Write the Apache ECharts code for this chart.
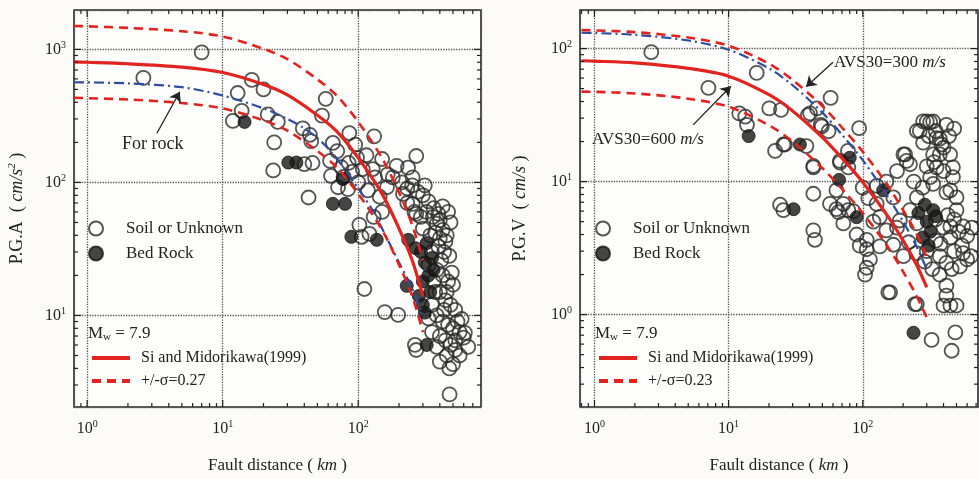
<!DOCTYPE html>
<html style="height: 100%">
  <head>
    <meta charset="utf-8" />
  </head>
  <body style="height: 100%; margin: 0; background: #fcfbf8">
    <div id="container" style="width: 979px; height: 479px"></div>

    <script
      type="text/javascript"
      src="https://cdn.jsdelivr.net/npm/echarts@6/dist/echarts.min.js"
    ></script>

    <script type="text/javascript">
      // ---- data ----
      // fault distance (km) where the model curves were read
      var curveDist = [0.8, 1, 2, 5, 10, 20, 30, 50, 70, 100, 150, 200, 250, 300];

      // P.G.A (cm/s2)
      var pgaMedian = [805, 800, 780, 735, 670, 545, 455, 320, 240, 153, 82, 45, 26, 14];
      var pgaUpper = [1500, 1490, 1450, 1370, 1250, 1010, 845, 595, 445, 285, 152, 84, 48, 26];
      var pgaLower = [433, 430, 420, 395, 360, 293, 245, 172, 129, 82, 44, 24, 14, 7.5];
      var rockDist = [0.8, 1, 2, 5, 10, 20, 30, 40, 50, 60, 80, 100, 130, 150, 200, 250, 300];
      var pgaRockCurve = [566, 565, 555, 520, 450, 360, 300, 255, 215, 180, 125, 90, 60, 45, 25, 16, 10];

      var pgaSoil = [
        [2.6, 610], [7, 950], [12.9, 470], [13.8, 345], [11.9, 290], [16.4, 590], [20, 500], [21.5, 325],
        [25.5, 285], [24, 200], [23.6, 123], [43, 77], [57.6, 425], [54, 318], [39, 255], [44, 228],
        [46, 140], [40, 137], [45, 204], [65, 198], [70, 172], [62, 145], [63, 112], [86, 235],
        [131, 222], [268, 158], [95, 192], [98, 153], [71, 92], [84, 89], [108, 126], [128, 126],
        [133, 109], [118, 87], [192, 133], [233, 129], [252, 109], [310, 95], [180, 109], [163, 92],
        [214, 82], [144, 78], [252, 69], [268, 58], [318, 60], [356, 55], [380, 49], [102, 48],
        [121, 41], [106, 39], [111, 15.8], [157, 10.6], [197, 10.1], [268, 5.5], [262, 6], [472, 2.55],
        [648, 5.8], [612, 7.4], [580, 9.4], [300, 45], [340, 40], [370, 42], [400, 38], [420, 44],
        [450, 40], [390, 33], [430, 30], [470, 28], [350, 30], [330, 24], [380, 22], [420, 20],
        [460, 18], [500, 17], [360, 18], [400, 15], [440, 13], [480, 12], [520, 11], [350, 12],
        [380, 10], [420, 9], [460, 8.5], [500, 8], [540, 9], [560, 7.5], [600, 6.8], [400, 7],
        [440, 6.5], [480, 6], [520, 5.5], [560, 5], [450, 5], [400, 4.5], [500, 4.3], [470, 4],
        [380, 5.8], [350, 7.5], [330, 9.5], [520, 6.5], [430, 11], [370, 15], [450, 15], [490, 21],
        [410, 26], [440, 36], [400, 52], [460, 60], [420, 66], [390, 58], [480, 50], [360, 64],
        [330, 72], [300, 80], [230, 90], [210, 100], [250, 95], [275, 85], [290, 55], [260, 60],
        [230, 70], [165, 115], [150, 150], [115, 160], [78, 110], [90, 120], [100, 100], [85, 140],
        [75, 130], [130, 55], [150, 60]
      ];
      var pgaBed = [
        [14.5, 285], [30.5, 141], [35, 141], [65, 69], [80, 69], [77, 106], [89, 39], [137, 37],
        [234, 37], [228, 16.7], [320, 6], [290, 30], [310, 25], [300, 18], [330, 20], [280, 14],
        [300, 12], [340, 15], [320, 35], [350, 27], [310, 10.5], [360, 22], [265, 32]
      ];

      // P.G.V (cm/s)
      var pgvMedian = [81, 80.5, 78, 71, 62, 45, 34, 21.5, 15, 9.9, 5.7, 3.6, 2.4, 1.6];
      var pgvUpper = [138, 137, 133, 121, 105, 77, 58, 37, 25.5, 16.8, 9.7, 6.1, 4.1, 2.7];
      var pgvLower = [47.5, 47.3, 46, 42, 36.5, 26.5, 20, 12.6, 8.8, 5.8, 3.35, 2.1, 1.4, 0.95];
      var pgvAvs300 = [132, 131, 127, 115, 98, 71, 53, 33, 22.5, 14.5, 8, 5, 3.3, 2.2];

      var pgvSoil = [
        [2.65, 94], [7.07, 50.6], [16.2, 65.6], [12, 32.6], [13.3, 30.8], [13.7, 26.7], [20.1, 35.5],
        [24.6, 34.6], [25.6, 19], [22.2, 17], [38, 18.5], [42.8, 12.8], [42.8, 8.1], [57.6, 42.6],
        [40.5, 32.6], [45.6, 35.5], [48.6, 26.7], [55.6, 23.9], [94, 25.2], [77.6, 17], [67.7, 13.9],
        [78, 12.8], [63.6, 8.6], [71.6, 6.8], [57, 6.8], [66, 5.9], [24.2, 6.7], [25.6, 6.1],
        [127, 9.3], [201, 16], [212, 14.3], [282, 28.4], [318, 28], [420, 26.7], [253, 24], [354, 21.2],
        [375, 16], [448, 16], [400, 12], [470, 12.8], [335, 9.6], [450, 8.6], [500, 6.1], [560, 4.6],
        [450, 4.6], [44, 3.65], [155, 1.47], [245, 1.2], [400, 1.17], [450, 1.17], [326, 0.645],
        [490, 0.735], [460, 0.535], [39, 31.6], [26.3, 19], [49.5, 26], [42.8, 13.1], [67.7, 14.3],
        [207, 16], [225, 13.5], [266, 24], [300, 28.3], [335, 28.3], [282, 19.6], [375, 21], [387, 19],
        [335, 16], [355, 12.8], [318, 10.8], [470, 10.8], [420, 8.3], [500, 7.6], [42.8, 4.3],
        [63.6, 6.2], [78, 6.1], [71.6, 4.85], [107, 3.65], [134, 5.4], [127, 6.8], [169, 7.6], [150, 4.3],
        [189, 5.1], [225, 6.1], [253, 7.6], [253, 4.85], [350, 5.2], [400, 4.5], [450, 3.8], [520, 4.2],
        [600, 3.9], [650, 4.5], [380, 3.4], [107, 3.1], [113, 2.6], [107, 2.25], [104, 2], [134, 3.26],
        [160, 1.47], [169, 3.35], [201, 2.75], [253, 1.2], [375, 2], [420, 1.65], [420, 1.39],
        [500, 1.17], [530, 2.3], [560, 2.9], [640, 2.75], [420, 2.45], [375, 2.75], [100, 9], [110, 7.5],
        [120, 5], [90, 4], [95, 3.3], [85, 6], [150, 10], [180, 12], [240, 10], [280, 9], [300, 3],
        [330, 2.2], [350, 3.6], [460, 2.2], [480, 3], [550, 3.3], [600, 2.6], [290, 2.5], [250, 2.9],
        [220, 3.5], [180, 4.5], [430, 5.6], [480, 5.2], [300, 13], [340, 14], [400, 18], [440, 22],
        [480, 25], [350, 24], [310, 22]
      ];
      var pgvBed = [
        [14.1, 22], [34, 19], [80, 15.1], [66.6, 10.3], [90, 5.4], [30.5, 6.2], [142, 8.6], [290, 6.7],
        [335, 6.1], [239, 0.73], [300, 5], [320, 4.2], [280, 3.8], [350, 5.5], [310, 3.3], [260, 5.8]
      ];

      // axis extents
      var xRange = [[0.8, 805], [0.78, 723]];
      var yRange = [[2.05, 1977], [0.202, 195]];

      // ---- chart ----
      var dom = document.getElementById("container");
      var myChart = echarts.init(dom, null, { renderer: "canvas" });

      var FONT = "Liberation Serif";
      var RED = "#e2231e";
      var BLUE = "#2d4d9e";
      var INK = "#222";

      function pairs(xs, ys) {
        return xs.map(function (x, i) {
          return [x, ys[i]];
        });
      }

      // tick values: decades (major) and 2..9 times a decade (minor)
      function logTicks(min, max) {
        var out = [];
        for (var e = -2; e <= 4; e++) {
          for (var m = 1; m <= 9; m++) {
            var v = m * Math.pow(10, e);
            if (v > min * 1.01 && v < max * 0.99) out.push([v, m === 1 ? 7 : 4]);
          }
        }
        return out;
      }

      function tickData(i) {
        var d = [];
        logTicks(xRange[i][0], xRange[i][1]).forEach(function (t) {
          d.push([t[0], yRange[i][0] * 2, 0, t[1]]);
        });
        logTicks(yRange[i][0], yRange[i][1]).forEach(function (t) {
          d.push([xRange[i][0] * 2, t[0], 1, t[1]]);
        });
        return d;
      }

      function renderTick(params, api) {
        var cs = params.coordSys;
        var p = api.coord([api.value(0), api.value(1)]);
        var len = api.value(3);
        var style = { stroke: INK, lineWidth: 1.2 };
        var a, b;
        if (api.value(2) === 0) {
          var bot = cs.y + cs.height;
          a = { x1: p[0], y1: bot, x2: p[0], y2: bot - len };
          b = { x1: p[0], y1: cs.y, x2: p[0], y2: cs.y + len };
        } else {
          var right = cs.x + cs.width;
          a = { x1: cs.x, y1: p[1], x2: cs.x + len, y2: p[1] };
          b = { x1: right, y1: p[1], x2: right - len, y2: p[1] };
        }
        return {
          type: "group",
          children: [
            { type: "line", shape: a, style: style },
            { type: "line", shape: b, style: style }
          ]
        };
      }

      var supRich = {
        b: { fontFamily: FONT, fontSize: 16, color: INK },
        s: { fontFamily: FONT, fontSize: 10, color: INK, padding: [0, 0, 9, 0] }
      };

      function powLabel(v) {
        var e = Math.round(Math.log10(v));
        return "{b|10}{s|" + e + "}";
      }

      function xAxisFor(i) {
        return {
          type: "log",
          logBase: 10,
          gridIndex: i,
          min: xRange[i][0],
          max: xRange[i][1],
          axisLine: { show: false },
          axisTick: { show: false },
          splitLine: { show: true, lineStyle: { type: "dotted", color: "#555", width: 1.3 } },
          axisLabel: {
            formatter: powLabel,
            rich: supRich,
            margin: 12,
            showMinLabel: false,
            showMaxLabel: false
          },
          name: "Fault distance ( {i|km} )",
          nameLocation: "middle",
          nameGap: 50,
          nameTextStyle: {
            fontFamily: FONT,
            fontSize: 17,
            color: INK,
            rich: { i: { fontFamily: FONT, fontSize: 17, fontStyle: "italic", color: INK } }
          }
        };
      }

      function yAxisFor(i, name, gap) {
        return {
          type: "log",
          logBase: 10,
          gridIndex: i,
          min: yRange[i][0],
          max: yRange[i][1],
          axisLine: { show: false },
          axisTick: { show: false },
          splitLine: { show: true, lineStyle: { type: "dotted", color: "#555", width: 1.3 } },
          axisLabel: {
            formatter: powLabel,
            rich: supRich,
            margin: 8,
            showMinLabel: false,
            showMaxLabel: false
          },
          name: name,
          nameLocation: "middle",
          nameRotate: 90,
          nameGap: gap,
          nameTextStyle: {
            fontFamily: FONT,
            fontSize: 18,
            color: INK,
            rich: {
              i: { fontFamily: FONT, fontSize: 18, fontStyle: "italic", color: INK },
              s: { fontFamily: FONT, fontSize: 11, fontStyle: "italic", color: INK, padding: [0, 0, 9, 0] }
            }
          }
        };
      }

      function scatter(i, name, data, filled) {
        return {
          name: name,
          type: "scatter",
          xAxisIndex: i,
          yAxisIndex: i,
          data: data,
          symbol: "circle",
          symbolSize: filled ? 13 : 14,
          z: 2,
          itemStyle: filled
            ? { color: "#161616", borderColor: "#161616", borderWidth: 1 }
            : { color: "rgba(0,0,0,0)", borderColor: "#2a2a2a", borderWidth: 1.8 },
          silent: true
        };
      }

      function curve(i, name, data, color, type, width, extra) {
        var s = {
          name: name,
          type: "line",
          xAxisIndex: i,
          yAxisIndex: i,
          data: data,
          smooth: 0.3,
          symbol: "none",
          showSymbol: false,
          z: 3,
          lineStyle: { color: color, type: type, width: width },
          itemStyle: { color: color },
          silent: true
        };
        for (var k in extra) s[k] = extra[k];
        return s;
      }

      function arrow(from, to) {
        return {
          silent: true,
          symbol: ["none", "arrow"],
          symbolSize: 10,
          label: { show: false },
          lineStyle: { color: INK, width: 1.3, type: "solid" },
          data: [[{ coord: from }, { coord: to }]]
        };
      }

      function pointLegend(left) {
        return {
          data: ["Soil or Unknown", "Bed Rock"],
          orient: "vertical",
          left: left,
          top: 215,
          itemWidth: 50,
          itemHeight: 14,
          itemGap: 8,
          textStyle: { fontFamily: FONT, fontSize: 17, color: INK },
          selectedMode: false
        };
      }

      function lineLegend(left, sigmaName) {
        return {
          data: ["Si and Midorikawa(1999)", sigmaName],
          orient: "vertical",
          left: left,
          top: 345,
          itemWidth: 38,
          itemHeight: 14,
          itemGap: 7,
          itemStyle: { opacity: 0 },
          lineStyle: { width: 4 },
          textStyle: { fontFamily: FONT, fontSize: 16, color: INK, padding: [0, 0, 0, 6] },
          selectedMode: false
        };
      }

      var italicRich = { i: { fontStyle: "italic", fontFamily: FONT, fontSize: 17 } };

      option = {
        backgroundColor: "#fcfbf8",
        animation: false,
        grid: [
          { left: 74, top: 10, width: 407, height: 403, show: true, borderColor: "#2a2a2a", borderWidth: 1.6, backgroundColor: "#fdfdfb" },
          { left: 580, top: 10, width: 398, height: 403, show: true, borderColor: "#2a2a2a", borderWidth: 1.6, backgroundColor: "#fdfdfb" }
        ],
        xAxis: [xAxisFor(0), xAxisFor(1)],
        yAxis: [
          yAxisFor(0, "P.G.A  ( {i|cm/s}{s|2} )", 47),
          yAxisFor(1, "P.G.V  ( {i|cm/s} )", 51)
        ],
        legend: [
          pointLegend(83),
          pointLegend(590),
          lineLegend(85, "+/-σ=0.27"),
          lineLegend(592, "+/-σ=0.23")
        ],
        graphic: [
          { type: "text", left: 122, top: 135, style: { text: "For rock", font: "18px " + FONT, fill: INK } },
          { type: "text", left: 834, top: 54, style: { text: "AVS30=300 {i|m/s}", font: "17px " + FONT, fill: INK, rich: italicRich } },
          { type: "text", left: 592, top: 131, style: { text: "AVS30=600 {i|m/s}", font: "17px " + FONT, fill: INK, rich: italicRich } },
          { type: "text", left: 88, top: 325, style: { text: "M{s|w} = 7.9", font: "17px " + FONT, fill: INK, rich: { s: { fontFamily: FONT, fontSize: 11, padding: [8, 0, 0, 0] } } } },
          { type: "text", left: 595, top: 325, style: { text: "M{s|w} = 7.9", font: "17px " + FONT, fill: INK, rich: { s: { fontFamily: FONT, fontSize: 11, padding: [8, 0, 0, 0] } } } }
        ],
        series: [
          scatter(0, "Soil or Unknown", pgaSoil, false),
          scatter(0, "Bed Rock", pgaBed, true),
          curve(0, "For rock", pairs(rockDist, pgaRockCurve), BLUE, [10, 4, 2, 4], 2.2, {
            markLine: arrow([3.27, 234], [4.83, 480])
          }),
          curve(0, "+/-σ=0.27", pairs(curveDist, pgaUpper), RED, [9, 6], 2.6),
          curve(0, "+/-σ=0.27", pairs(curveDist, pgaLower), RED, [9, 6], 2.6),
          curve(0, "Si and Midorikawa(1999)", pairs(curveDist, pgaMedian), RED, "solid", 3.2),

          scatter(1, "Soil or Unknown", pgvSoil, false),
          scatter(1, "Bed Rock", pgvBed, true),
          curve(1, "AVS30=300", pairs(curveDist, pgvAvs300), BLUE, [10, 4, 2, 4], 2.2, {
            markLine: arrow([60, 79], [37.8, 51.7])
          }),
          curve(1, "+/-σ=0.23", pairs(curveDist, pgvUpper), RED, [9, 6], 2.6),
          curve(1, "+/-σ=0.23", pairs(curveDist, pgvLower), RED, [9, 6], 2.6),
          curve(1, "Si and Midorikawa(1999)", pairs(curveDist, pgvMedian), RED, "solid", 3.2, {
            markLine: arrow([5.44, 26.7], [10.4, 52.1])
          }),

          {
            type: "custom",
            xAxisIndex: 0,
            yAxisIndex: 0,
            renderItem: renderTick,
            data: tickData(0),
            encode: { x: 0, y: 1 },
            silent: true,
            z: 4
          },
          {
            type: "custom",
            xAxisIndex: 1,
            yAxisIndex: 1,
            renderItem: renderTick,
            data: tickData(1),
            encode: { x: 0, y: 1 },
            silent: true,
            z: 4
          }
        ]
      };

      if (option && typeof option === "object") {
        myChart.setOption(option);
      }
    </script>
  </body>
</html>
